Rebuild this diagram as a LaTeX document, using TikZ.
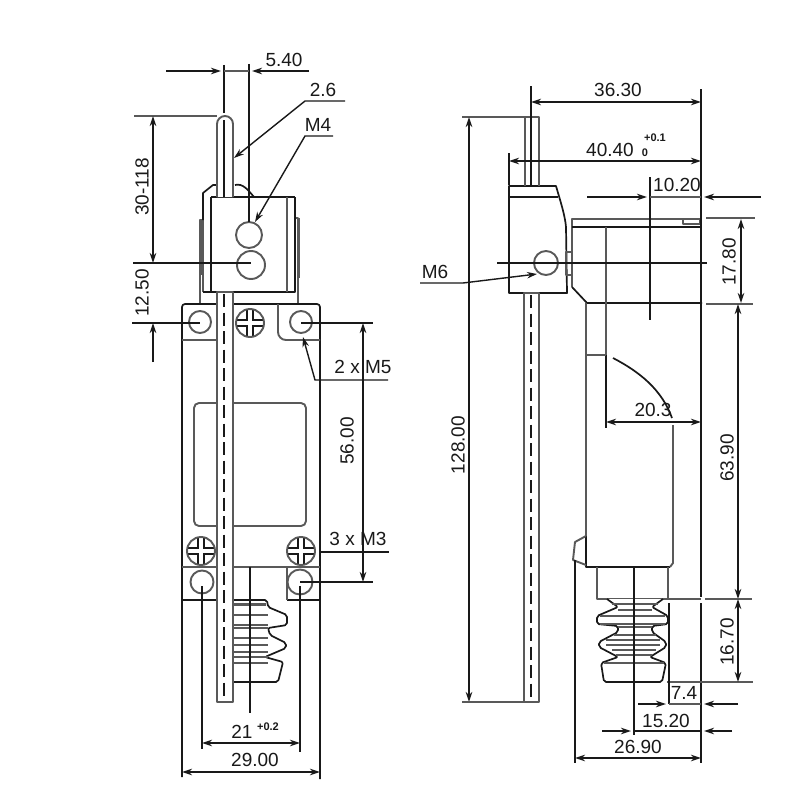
\documentclass[tikz,border=0pt]{standalone}
\usepackage{fontspec}
\setmainfont{Liberation Sans}
\usetikzlibrary{arrows.meta}
\definecolor{ink}{gray}{0.1}
\definecolor{soft}{gray}{0.35}
\tikzset{
  ol/.style={line width=1.7pt,draw=ink,line join=round},
  gl/.style={line width=1.9pt,draw=soft,line join=round},
  hair/.style={line width=1.4pt,draw=soft},
  thin line/.style={line width=1.4pt,draw=ink},
  dimline/.style={line width=1.4pt,draw=ink,{Stealth[length=10pt,width=6.5pt]}-{Stealth[length=10pt,width=6.5pt]}},
  toarrow/.style={line width=1.4pt,draw=ink,-{Stealth[length=10pt,width=6.5pt]}},
  centre dash/.style={line width=1.7pt,draw=ink,dash pattern=on 13pt off 5.5pt},
  lab/.style={inner sep=0pt,text=ink,font=\fontsize{19}{21}\selectfont},
  vlab/.style={lab,rotate=90},
  tiny lab/.style={inner sep=0pt,text=ink,font=\fontsize{11}{12}\selectfont\bfseries},
  rodfill/.style={gl,fill=white},
}
\newcommand{\screwhead}[3]{%
  \begin{scope}
    \clip (#1,#2) circle[radius=#3pt];
    \draw[line width=7.5pt,ink] (#1-#3,#2)--(#1+#3,#2) (#1,#2-#3)--(#1,#2+#3);
    \draw[line width=4.5pt,white] (#1-#3,#2)--(#1+#3,#2) (#1,#2-#3)--(#1,#2+#3);
  \end{scope}
  \draw[gl] (#1,#2) circle[radius=#3pt];
}
\begin{document}
\begin{tikzpicture}[x=1pt,y=-1pt]
\useasboundingbox[fill=white] (0,0) rectangle (800,800);

%% ---------- LEFT VIEW ----------
% base plate
\draw[ol,rounded corners=3pt] (182,777)--(182,304)--(320,304)--(320,779);
\draw[gl] (182,340)--(217,340);
\draw[gl,rounded corners=8pt] (278,304)--(278,340)--(320,340);
\draw[gl,rounded corners=5pt] (194,403) rectangle (306,526);
\draw[gl] (182,567)--(320,567);
\draw[ol] (182,600)--(232,600) (287,600)--(320,600);
\draw[gl] (287,567)--(287,600);
% mounting holes and screws
\draw[gl] (200,322) circle[radius=11pt];
\draw[gl] (301,322) circle[radius=11pt];
\draw[gl] (202,582) circle[radius=11.5pt];
\draw[gl] (300,582) circle[radius=12.5pt];
\screwhead{250}{323}{14}
\screwhead{201}{551}{14}
\screwhead{301}{551}{14}
% head
\draw[gl] (203,292)--(203,220)--(200,220)--(200,303);
\draw[line width=3pt,soft] (201,220)--(201,275) (298,218)--(298,278);
\draw[ol] (203,220)--(203,193)--(213,185)--(217,185);
\draw[ol] (235,185) .. controls (243,183) and (248,190) .. (254,197);
\draw[gl] (295,218)--(298,218)--(298,303);
\draw[ol] (211,197)--(295,197);
\draw[ol] (211,197)--(211,292)--(295,292)--(295,197);
\draw[gl] (287,197)--(287,292);
\draw[ol] (203,292)--(211,292);
\draw[gl] (249,235) circle[radius=13pt];
\draw[gl] (251,265) circle[radius=14pt];
% upper lever
\draw[rodfill] (217,197)--(217,124) arc[start angle=180,end angle=0,radius=8pt]--(233,197);
\draw[ol] (224,120)--(224,197);
% bellows (left view)
\draw[ol,fill=white,rounded corners=2pt] (233,600)--(267,600)--(268,607)--(287,615)--(287,625)--(268,628)--(270,635)--(286,643)--(286,648)--(265,657)--(283,662)--(278,682)--(233,682);
\foreach \yy in {615,625,628,638,645,652,657,663}{\draw[gl] (233,\yy)--(268,\yy);}
\draw[line width=3.5pt,soft] (233,604.5)--(266,604.5);
% lower lever
\draw[rodfill] (217,292) rectangle (233,702);
\draw[centre dash] (224,294)--(224,700);

% left view: dimension and extension lines
\draw[thin line] (224,65)--(224,113);
\draw[thin line] (249,64)--(249,222);
\draw[toarrow] (166,71)--(221,71);
\draw[hair] (224,71)--(249,71);
\draw[toarrow] (309,71)--(252,71);
\node[lab] (t540) at (284,60) {5.40};
\draw[toarrow] (345,101)--(305,101)--(234,158);
\node[lab] (t26) at (323,90) {2.6};
\draw[toarrow] (333,136)--(305,136)--(255,222);
\node[lab] (tm4) at (318,125) {M4};
\draw[gl] (134,116)--(217,116);
\draw[thin line] (133,263)--(251,263);
\draw[thin line] (132,323)--(200,323);
\draw[dimline] (153,116)--(153,263);
\draw[toarrow] (153,362)--(153,323);
\node[vlab] (t30) at (142,187) {30-118};
\node[vlab] (t125) at (142,293) {12.50};
\draw[thin line] (301,323)--(373,323);
\draw[thin line] (300,582)--(373,582);
\draw[dimline] (363,323)--(363,582);
\node[vlab] (t56) at (347,441) {56.00};
\draw[toarrow] (388,380)--(315,380)--(303,337);
\node[lab] (t2m5) at (363,367) {2 x M5};
\draw[thin line] (320,552)--(389,552);
\node[lab] (t3m3) at (358,539) {3 x M3};
\draw[thin line] (250,567)--(250,713);
\draw[thin line] (202,586)--(202,749);
\draw[thin line] (300,586)--(300,752);
\draw[dimline] (202,743)--(300,743);
\node[lab] (t21) at (242,732) {21};
\node[tiny lab] (t21t) at (268,727) {+0.2};
\draw[dimline] (182,772)--(320,772);
\node[lab] (t29) at (255,760) {29.00};

%% ---------- RIGHT VIEW ----------
% head
\draw[ol,fill=white] (509,186)--(556,186) .. controls (560,200) and (565,215) .. (566,227)--(567,293)--(509,293)--cycle;
\draw[ol] (509,197)--(558,197);
\draw[gl] (546,263) circle[radius=12pt];
\draw[gl] (566,252) rectangle (572,275);
% rod
\draw[gl] (525,186)--(525,117)--(539,117)--(539,186);
\draw[rodfill] (524,293) rectangle (539,702);
\draw[centre dash] (531,295)--(531,700);
% housing
\draw[gl] (572,287)--(572,219)--(701,219);
\draw[ol] (572,227)--(701,227);
\draw[ol] (572,287)--(587,303)--(702,303);
\draw[gl] (683,219.5) rectangle (700,224);
\draw[gl] (606,227)--(606,355);
\draw[ol] (606,355)--(606,428);
\draw[gl] (586,355)--(606,355);
\draw[gl] (586,303)--(586,536);
\draw[ol] (586,536)--(586,567)--(670,567);
\draw[gl] (670,567)--(673,563)--(673,425);
\draw[gl] (586,536)--(575,542)--(573,560)--(586,565);
\draw[ol] (613,358) .. controls (640,372) and (662,390) .. (672,418);
% neck and bellows
\draw[gl] (597,567)--(597,599)--(668,599)--(668,567);
\draw[ol,fill=white,rounded corners=2pt] (663,599)--(652,607)--(668,616)--(668,624)--(652,626)--(652,632)--(666,642)--(666,647)--(650,657)--(666,663)--(662,682)--(604,682)--(601,663)--(618,657)--(599,647)--(599,642)--(618,632)--(618,626)--(597,624)--(597,616)--(618,607)--(607,599);
\foreach \yy/\xa/\xb in {604/612/658,610/618/652,616/600/665,624/600/665,627/618/652,635/614/656,640/606/660,645/606/660,650/612/656,655/616/652,663/604/664}{\draw[gl] (\xa,\yy)--(\xb,\yy);}

% right view: dimension and extension lines
\draw[thin line] (531,86)--(531,185);
\draw[gl] (462,117)--(525,117);
\draw[dimline] (469,117)--(469,702);
\node[vlab] (t128) at (458,445) {128.00};
\draw[gl] (462,702)--(524,702);
\draw[thin line] (701,89)--(701,597) (701,603)--(701,763);
\draw[dimline] (531,102)--(701,102);
\node[lab] (t363) at (618,90) {36.30};
\draw[thin line] (509,153)--(509,185);
\draw[dimline] (509,161)--(701,161);
\node[lab] (t404) at (610,150) {40.40};
\node[tiny lab] (t404a) at (655,138) {+0.1};
\node[tiny lab] (t404b) at (645,153) {0};
\draw[thin line] (650,177)--(650,320);
\draw[toarrow] (587,197)--(647,197);
\draw[hair] (650,197)--(701,197);
\draw[toarrow] (761,197)--(704,197);
\node[lab] (t102) at (677,185) {10.20};
\draw[thin line] (497,263)--(707,263);
\draw[toarrow] (420,283)--(463,283)--(537,274);
\node[lab] (tm6) at (435,272) {M6};
\draw[gl] (706,218)--(755,218);
\draw[gl] (706,304)--(753,304);
\draw[dimline] (741,219)--(741,303);
\node[vlab] (t178) at (729,262) {17.80};
\draw[dimline] (738,304)--(738,599);
\node[vlab] (t639) at (727,458) {63.90};
\draw[dimline] (606,422)--(701,422);
\node[lab] (t203) at (653,410) {20.3};
\draw[gl] (668,599)--(701,599) (705,599)--(752,599);
\draw[gl] (667,682)--(753,682);
\draw[dimline] (738,599)--(738,682);
\node[vlab] (t167) at (727,642) {16.70};
\draw[thin line] (669,603)--(669,704);
\draw[toarrow] (638,704)--(666,704);
\draw[hair] (669,704)--(701,704);
\draw[toarrow] (738,704)--(704,704);
\node[lab] (t74) at (684,693) {7.4};
\draw[thin line] (634,567)--(634,735);
\draw[toarrow] (602,731)--(631,731);
\draw[thin line] (634,731)--(701,731);
\draw[toarrow] (732,731)--(704,731);
\node[lab] (t152) at (666,721) {15.20};
\draw[thin line] (575,560)--(575,763);
\draw[dimline] (575,758)--(701,758);
\node[lab] (t269) at (638,747) {26.90};
\end{tikzpicture}
\end{document}
